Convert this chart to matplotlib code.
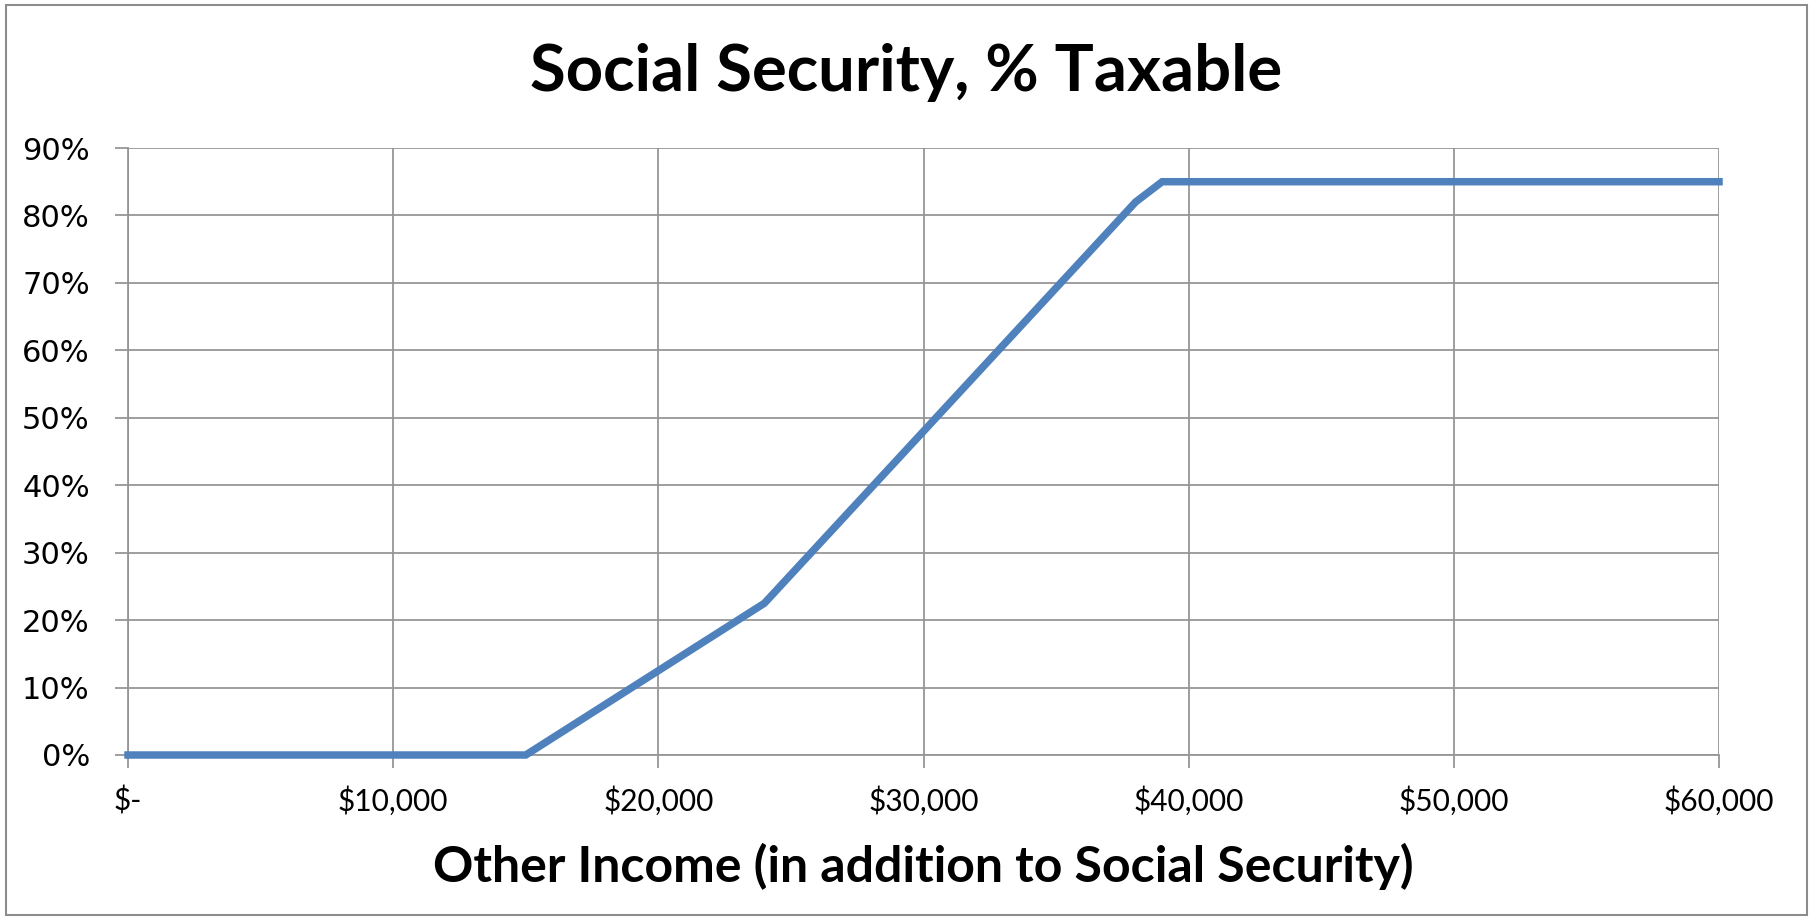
import matplotlib.pyplot as plt
from matplotlib.ticker import FuncFormatter
from matplotlib.patches import Rectangle

# other income ($) and share of social security that is taxable
income = [0, 15000, 24000, 38000, 39000, 60000]
taxable = [0.0, 0.0, 0.225, 0.82, 0.85, 0.85]

xticks = [0, 10000, 20000, 30000, 40000, 50000, 60000]
yticks = [i / 10 for i in range(10)]

fig = plt.figure(figsize=(18.13, 9.18), dpi=100)
ax = fig.add_axes([128 / 1813, 1 - 755 / 918, (1719 - 128) / 1813, (755 - 148) / 918])

grid_col = '#969696'
ax.plot(income, taxable, color='#4F81BD', linewidth=5.4, solid_joinstyle='miter',
        zorder=3, clip_on=False)

ax.set_xlim(0, 60000)
ax.set_ylim(0, 0.9)
ax.set_xticks(xticks)
ax.set_yticks(yticks)
ax.grid(True, color=grid_col, linewidth=1.3)
ax.set_axisbelow(True)

for side in ['top', 'right']:
    ax.spines[side].set_visible(False)
for side in ['left', 'bottom']:
    ax.spines[side].set_color(grid_col)
    ax.spines[side].set_linewidth(1.3)

ax.tick_params(axis='both', direction='out', color=grid_col, width=1.3, length=9.5)
ax.tick_params(axis='y', pad=18)
ax.tick_params(axis='x', pad=13)

ax.xaxis.set_major_formatter(FuncFormatter(
    lambda v, p: '$-' if v == 0 else '${:,.0f}'.format(v)))
ax.yaxis.set_major_formatter(FuncFormatter(lambda v, p: '{:.0f}%'.format(v * 100)))

for lab in ax.get_yticklabels():
    lab.set_fontfamily('DejaVu Sans')
    lab.set_fontsize(22)
for lab in ax.get_xticklabels():
    lab.set_fontfamily('Lato')
    lab.set_fontsize(21.5)

fig.text(0.5, 1 - 72 / 918, 'Social Security, % Taxable', ha='center', va='center',
         fontsize=47, fontweight='bold', family='Lato')
fig.text(923.5 / 1813, 1 - 866 / 918, 'Other Income (in addition to Social Security)',
         ha='center', va='center', fontsize=36, fontweight='bold', family='Lato')

# outer chart border
fig.patches.append(Rectangle((6 / 1813, 3 / 918), 1 - 12 / 1813, 1 - 8 / 918,
                             transform=fig.transFigure, fill=False,
                             edgecolor='#8c8c8c', linewidth=1.5))

fig.savefig('out.png', dpi=100)
